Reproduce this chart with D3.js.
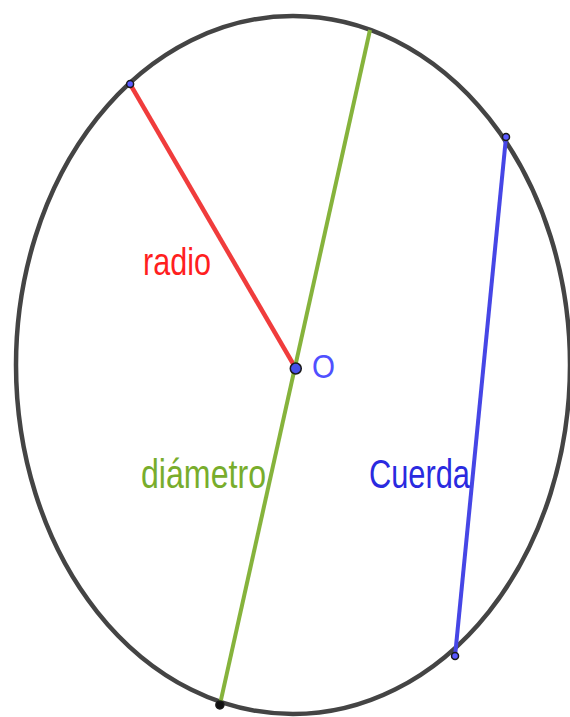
<!DOCTYPE html>
<html lang="es">
<head>
<meta charset="UTF-8">
<title>Circunferencia</title>
<script src="https://cdn.jsdelivr.net/npm/d3@7"></script>
<style>
    body { margin: 0; background: #fff; }
    text { font-family: "Liberation Sans", Arial, sans-serif; }
</style>
</head>
<body>
<div id="chart"></div>
<script>
    // ellipse in unit coordinates: center 0,0 and semi-axes 1,1
    var centro = [0.01, -0.01];
    var radio = [[0.01, -0.01], [-0.588, 0.805]];
    var diametro = [[0.278, 0.960], [-0.264, -0.974]];
    var cuerda = [[0.769, 0.653], [0.585, -0.834]];

    var etiquetas = ["radio", "diámetro", "Cuerda", "O"];

    var width = 570, height = 717;

    var svg = d3.select("#chart").append("svg")
        .attr("width", width)
        .attr("height", height);

    var x = d3.scaleLinear().domain([-1, 1]).range([16, 570]);
    var y = d3.scaleLinear().domain([-1, 1]).range([714, 16]);

    svg.append("ellipse")
        .attr("cx", x(0))
        .attr("cy", y(0))
        .attr("rx", x(1) - x(0))
        .attr("ry", y(0) - y(1))
        .attr("fill", "none")
        .attr("stroke", "#444")
        .attr("stroke-width", 4.5);

    var line = d3.line()
        .x(function(d) { return x(d[0]); })
        .y(function(d) { return y(d[1]); });

    var segs = [
        {pts: radio, color: "#f03c3c", w: 4.5},
        {pts: diametro, color: "#86b33c", w: 4},
        {pts: cuerda, color: "#4646e6", w: 4}
    ];

    svg.append("g").selectAll("path")
        .data(segs)
        .enter().append("path")
        .attr("d", function(d) { return line(d.pts); })
        .attr("fill", "none")
        .attr("stroke", function(d) { return d.color; })
        .attr("stroke-width", function(d) { return d.w; });

    var puntos = [
        {p: radio[1], r: 3.5, fill: "#5a5aff"},
        {p: cuerda[0], r: 3.5, fill: "#5a5aff"},
        {p: cuerda[1], r: 3.5, fill: "#5a5aff"},
        {p: diametro[1], r: 4, fill: "#111"},
        {p: centro, r: 5.5, fill: "#4650e8"}
    ];

    svg.append("g").selectAll("circle")
        .data(puntos)
        .enter().append("circle")
        .attr("cx", function(d) { return x(d.p[0]); })
        .attr("cy", function(d) { return y(d.p[1]); })
        .attr("r", function(d) { return d.r; })
        .attr("fill", function(d) { return d.fill; })
        .attr("stroke", "#1a1a1a")
        .attr("stroke-width", 1.5);

    var textos = [
        {t: etiquetas[0], x: 143, y: 275, w: 68, size: 38, color: "#ff1f1f"},
        {t: etiquetas[1], x: 141, y: 488, w: 125, size: 40, color: "#78ad2c"},
        {t: etiquetas[2], x: 369, y: 488, w: 101, size: 40, color: "#2a2ae0"},
        {t: etiquetas[3], x: 312, y: 378, w: 23, size: 34, color: "#5050ff"}
    ];

    svg.append("g").selectAll("text")
        .data(textos)
        .enter().append("text")
        .attr("x", function(d) { return d.x; })
        .attr("y", function(d) { return d.y; })
        .attr("font-size", function(d) { return d.size; })
        .attr("fill", function(d) { return d.color; })
        .attr("textLength", function(d) { return d.w; })
        .attr("lengthAdjust", "spacingAndGlyphs")
        .text(function(d) { return d.t; });
</script>
</body>
</html>
